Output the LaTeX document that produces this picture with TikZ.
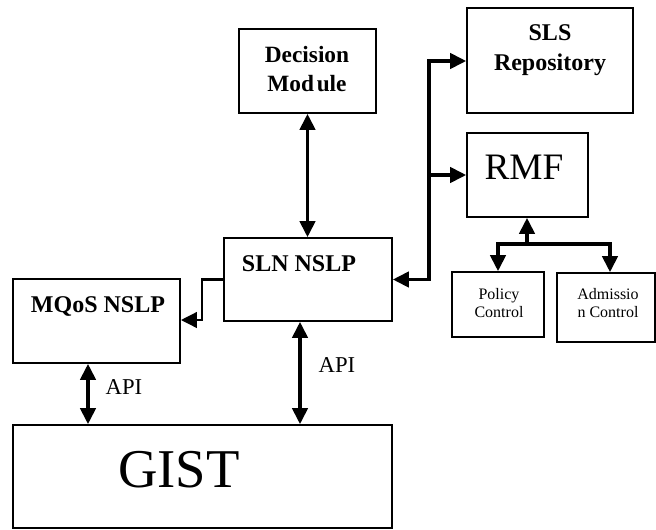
\documentclass[tikz,border=0pt]{standalone}
\usepackage{fontspec}
\setmainfont{Liberation Serif}
\usetikzlibrary{arrows.meta}
\begin{document}
\begin{tikzpicture}[x=0.75pt,y=-0.75pt,
  box/.style={draw,line width=1.3pt,inner sep=0pt,rectangle},
  arr/.style={line width=2.5pt,line cap=butt,-{Triangle[length=12pt,width=11.5pt]}},
  darr/.style={line width=2.5pt,{Triangle[length=12pt,width=11.5pt]}-{Triangle[length=12pt,width=11.5pt]}},
  bt/.style={font=\fontsize{18}{22}\selectfont\bfseries,align=center,inner sep=0pt},
  st/.style={font=\fontsize{12}{14}\selectfont,align=center,inner sep=0pt},
  apitext/.style={font=\fontsize{17}{20}\selectfont,inner sep=0pt}]
\useasboundingbox (0,0) rectangle (656,529);
% boxes
\node[box,minimum width=102.75pt,minimum height=63pt] (dec) at (307.5,71) {};
\node[box,minimum width=124.5pt,minimum height=78.75pt] (sls) at (550,60.5) {};
\node[box,minimum width=90.75pt,minimum height=63pt] (rmf) at (527.5,175) {};
\node[box,minimum width=69pt,minimum height=48.75pt] (pol) at (498,304.5) {};
\node[box,minimum width=73.5pt,minimum height=51.75pt] (adm) at (606,307.5) {};
\node[box,minimum width=126pt,minimum height=62.25pt] (sln) at (308,279.5) {};
\node[box,minimum width=125.25pt,minimum height=63pt] (mqos) at (96.5,321) {};
\node[box,minimum width=284.25pt,minimum height=77.25pt] (gist) at (202.5,476.5) {};
% texts
\node[bt,font=\fontsize{17.5}{21.75}\selectfont\bfseries] (dect) at (307,69) {Decision\\Mod\kern2pt ule};
\node[bt,font=\fontsize{18}{22.5}\selectfont\bfseries] (slst) at (550,50) {SLS\\Repository};
\node[font=\fontsize{28}{30}\selectfont,inner sep=0pt] (rmft) at (524,167) {RMF};
\node[st] (polt) at (499,303) {Policy\\Control};
\node[st] (admt) at (608,303) {Admissio\\n Control};
\node[bt] (slnt) at (299,264) {SLN NSLP};
\node[bt] (mqost) at (98,306) {MQoS NSLP};
\node[font=\fontsize{41}{44}\selectfont,inner sep=0pt] (gistt) at (179,470) {GIST};
\node[apitext] (api1) at (124,387) {API};
\node[apitext] (api2) at (337,365) {API};
% connectors
\draw[darr] (dec.south) -- (dec.south |- sln.north);
\coordinate (b1) at (429,61);
\coordinate (b2) at (429,175);
\draw[darr] (sln.east) -| (b1) -- (b1 -| sls.west);
\draw[arr] (b2) -- (b2 -| rmf.west);
\coordinate (m1) at (202,320);
\draw[arr,line width=2.2pt] (sln.west) -| (m1) -- (m1 -| mqos.east);
\coordinate (a1) at (88,0);
\coordinate (a2) at (300,0);
\draw[darr] (a1 |- mqos.south) -- (a1 |- gist.north);
\draw[darr] (a2 |- sln.south) -- (a2 |- gist.north);
\coordinate (j) at (527,244);
\coordinate (j2) at (610,0);
\draw[arr] (j) -- (j |- rmf.south);
\draw[arr] (j) -| (pol.north);
\draw[arr] (j) -| (j2 |- adm.north);
\end{tikzpicture}
\end{document}
